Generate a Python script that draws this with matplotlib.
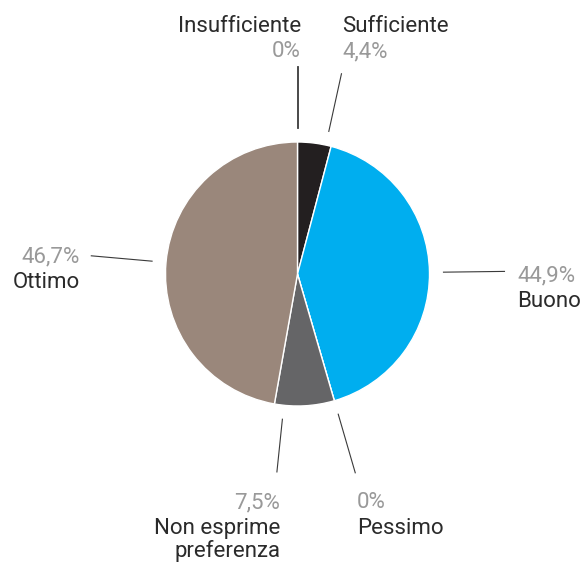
import numpy as np
import matplotlib.pyplot as plt

# slice data (drawn shares; printed labels as in the original)
categories = ["Insufficiente", "Sufficiente", "Buono", "Pessimo", "Non esprime\npreferenza", "Ottimo"]
shares = [0.0, 4.1, 41.4, 0.0, 7.3, 47.2]
pct_labels = ["0%", "4,4%", "44,9%", "0%", "7,5%", "46,7%"]
colors = ["#231f20", "#231f20", "#00aeef", "#5d5e60", "#656567", "#9a877b"]

W, H = 587, 567
CX, CY, R = 297.5, 274, 132

# label layout in pixel coords (x, baseline of percent, alignment)
label_pos = [
    (301, 57, "right"),
    (342, 57, "left"),
    (517, 281, "left"),
    (357, 508, "left"),
    (280, 508, "right"),
    (80, 262, "right"),
]
# small angle nudges for leader lines (deg) and their outer radius
line_nudge = [0, 5, 0, 0, 9, 0]
line_outer = [207, 205, 207, 207, 199, 207]

fig = plt.figure(figsize=(W / 100, H / 100), dpi=100)
ax = fig.add_axes([0, 0, 1, 1])

wedges, _ = ax.pie(shares, colors=colors, startangle=90, counterclock=False,
                   center=(CX, H - CY), radius=R,
                   wedgeprops=dict(edgecolor="white", linewidth=1))
ax.set_xlim(0, W)
ax.set_ylim(0, H)
ax.set_aspect("equal")
ax.axis("off")

# leader lines along each slice's middle angle
total = sum(shares)
start = 0.0
for i, s in enumerate(shares):
    mid = np.deg2rad(start + s / total * 360 / 2 + line_nudge[i])
    start += s / total * 360
    r1, r2 = 146, line_outer[i]
    xs = [CX + r1 * np.sin(mid), CX + r2 * np.sin(mid)]
    ys = [H - (CY - r1 * np.cos(mid)), H - (CY - r2 * np.cos(mid))]
    ax.plot(xs, ys, color="#3a3a3a", lw=0.8 if i != 0 else 1.3)

font = "Roboto"
fs = 16
for i, (cat, pct) in enumerate(zip(categories, pct_labels)):
    x, yb, ha = label_pos[i]
    if i in (0, 1):
        # name above the percentage
        ax.text(x, H - (yb - 25), cat, ha=ha, va="baseline", fontsize=fs,
                color="#2b2b2b", family=font)
        ax.text(x, H - yb, pct, ha=ha, va="baseline", fontsize=fs,
                color="#999999", family=font)
    else:
        ax.text(x, H - yb, pct, ha=ha, va="baseline", fontsize=fs,
                color="#999999", family=font)
        for j, line in enumerate(cat.split("\n")):
            ax.text(x, H - (yb + 26 + 23 * j), line, ha=ha, va="baseline",
                    fontsize=fs, color="#2b2b2b", family=font)

fig.savefig("out.png", dpi=100)
